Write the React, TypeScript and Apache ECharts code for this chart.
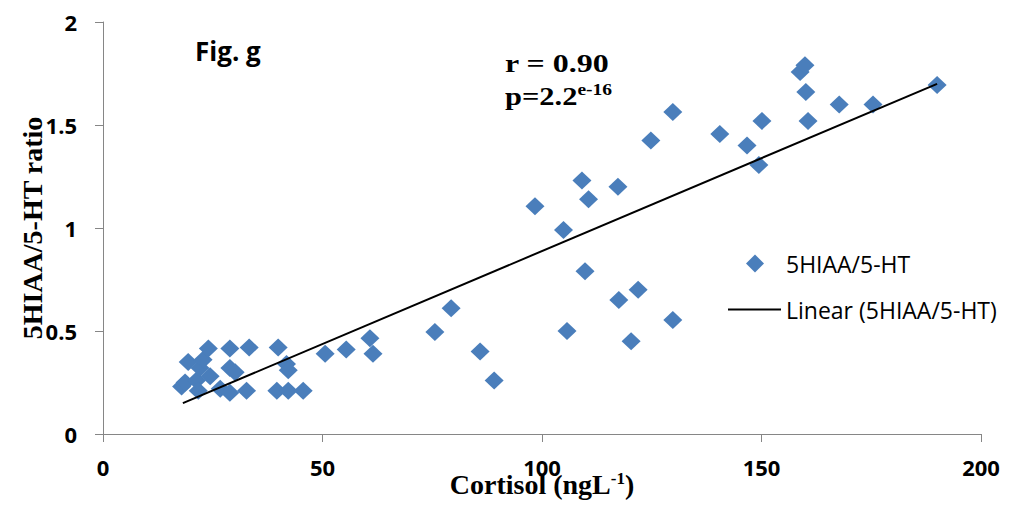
import React, { useEffect, useRef } from "react";
import * as echarts from "echarts";

const cortisol = [
  17.9, 19.4, 18.7, 21.3, 21.7, 22.1, 22.8, 24.0, 24.4, 26.7, 28.9, 28.9, 28.9, 30.1,
  32.7, 33.3, 39.6, 39.9, 41.8, 42.2, 42.2, 45.6,
  50.6, 55.4, 60.8, 61.5, 75.6, 79.3, 85.9, 89.1,
  98.4, 104.9, 105.7, 109.1, 109.8, 110.6, 117.3, 117.5, 120.3, 121.9, 124.8,
  129.8, 129.8, 140.5, 146.7, 149.4, 150.1, 158.8, 159.9, 160.1, 160.6, 167.7, 175.4, 190.0,
];
const ratio = [
  0.23, 0.35, 0.25, 0.26, 0.21, 0.32, 0.36, 0.415, 0.28, 0.22, 0.415, 0.32, 0.2, 0.3,
  0.21, 0.42, 0.21, 0.42, 0.34, 0.31, 0.21, 0.21,
  0.39, 0.41, 0.465, 0.39, 0.495, 0.61, 0.40, 0.26,
  1.105, 0.99, 0.50, 1.23, 0.79, 1.14, 1.20, 0.65, 0.45, 0.70, 1.425,
  0.553, 1.563, 1.456, 1.40, 1.306, 1.52, 1.757, 1.79, 1.66, 1.52, 1.60, 1.60, 1.694,
];
const trendX = [18.2, 190.0];
const trendY = [0.15, 1.70];
const xTicks = [0, 50, 100, 150, 200];
const yTicks = [0, 0.5, 1, 1.5, 2];

const SERIES = "5HIAA/5-HT";
const LINEAR = "Linear (5HIAA/5-HT)";

export default function App() {
  const ref = useRef<HTMLDivElement>(null);
  useEffect(() => {
    const chart = echarts.init(ref.current!, null, { renderer: "svg" });
    const axisColor = "#868686";
    const labelFont = "'Open Sans', 'Liberation Sans', sans-serif";
    const serif = "'Liberation Serif', 'DejaVu Serif', serif";
    chart.setOption({
      animation: false,
      backgroundColor: "#ffffff",
      grid: { left: 103, right: 28, top: 22, bottom: 76, containLabel: false, outerBoundsMode: "none" },
      xAxis: {
        type: "value",
        min: xTicks[0],
        max: xTicks[xTicks.length - 1],
        interval: 50,
        splitLine: { show: false },
        axisLine: { show: true, lineStyle: { color: axisColor, width: 1 } },
        axisTick: { show: true, length: 8, lineStyle: { color: axisColor } },
        axisLabel: { margin: 22, fontSize: 22, fontWeight: "bold", color: "#000", fontFamily: labelFont },
        name: "{a|Cortisol (ngL}{s|-1}{a|)}",
        nameLocation: "middle",
        nameGap: 36,
        nameMoveOverlap: false,
        nameTextStyle: {
          rich: {
            a: { fontSize: 28, fontWeight: "bold", fontFamily: serif, color: "#000" },
            s: { fontSize: 17, fontWeight: "bold", fontFamily: serif, color: "#000", verticalAlign: "top", padding: [0, 0, 12, 0] },
          },
        },
      },
      yAxis: {
        type: "value",
        min: yTicks[0],
        max: yTicks[yTicks.length - 1],
        interval: 0.5,
        splitLine: { show: false },
        axisLine: { show: true, lineStyle: { color: axisColor, width: 1 } },
        axisTick: { show: true, length: 8, lineStyle: { color: axisColor } },
        axisLabel: { margin: 26, fontSize: 22, fontWeight: "bold", color: "#000", fontFamily: labelFont },
        name: "5HIAA/5-HT ratio",
        nameLocation: "middle",
        nameGap: 57,
        nameMoveOverlap: false,
        nameTextStyle: { fontSize: 28, fontWeight: "bold", fontFamily: serif, color: "#000" },
      },
      legend: [
        {
          data: [SERIES],
          left: 741,
          top: 247,
          icon: "diamond",
          itemWidth: 18,
          itemHeight: 18,
          textStyle: { fontSize: 23, color: "#000", fontFamily: labelFont, padding: [0, 0, 0, 17] },
        },
        {
          data: [{ name: LINEAR, icon: "rect" }],
          left: 723,
          top: 293,
          itemWidth: 53,
          itemHeight: 2,
          textStyle: { fontSize: 23, color: "#000", fontFamily: labelFont },
        },
      ],
      series: [
        {
          name: SERIES,
          type: "scatter",
          symbol: "diamond",
          symbolSize: [19, 18],
          itemStyle: { color: "#4A7EBB", opacity: 1 },
          data: cortisol.map((x, i) => [x, ratio[i]]),
          z: 2,
        },
        {
          name: LINEAR,
          type: "line",
          symbol: "none",
          lineStyle: { color: "#000", width: 2 },
          itemStyle: { color: "#000" },
          data: trendX.map((x, i) => [x, trendY[i]]),
          z: 3,
        },
      ],
      graphic: [
        {
          type: "text",
          left: 195,
          top: 38,
          style: { text: "Fig. g", fontSize: 26, fontWeight: "bold", fontFamily: labelFont, fill: "#000" },
        },
        {
          type: "text",
          left: 505,
          top: 51,
          scaleX: 1.28,
          style: { text: "r = 0.90", fontSize: 25, fontWeight: "bold", fontFamily: serif, fill: "#000" },
        },
        {
          type: "text",
          left: 505,
          top: 82,
          scaleX: 1.22,
          style: {
            text: "{a|p=2.2}{s|e-16}",
            rich: {
              a: { fontSize: 25, fontWeight: "bold", fontFamily: serif, fill: "#000" },
              s: { fontSize: 16, fontWeight: "bold", fontFamily: serif, fill: "#000", verticalAlign: "top", padding: [0, 0, 12, 0] },
            },
          },
        },
      ],
    });
    return () => chart.dispose();
  }, []);
  return (
    <div
      ref={ref}
      style={{ position: "fixed", left: 0, top: 0, width: 1009, height: 510, background: "#fff" }}
    />
  );
}
